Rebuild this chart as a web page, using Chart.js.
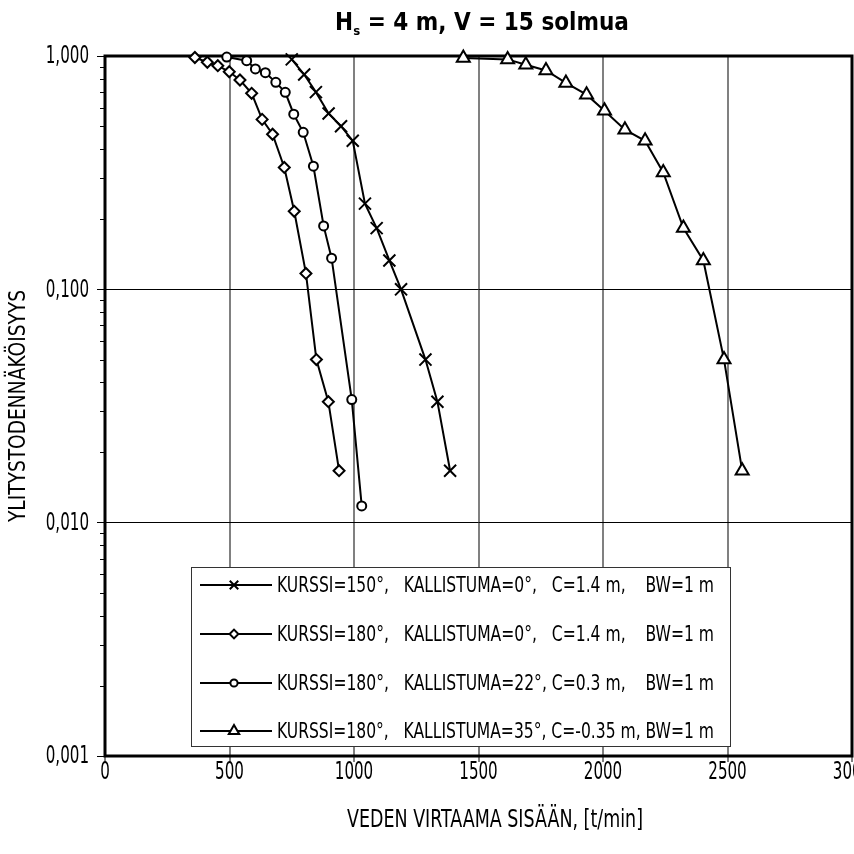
<!DOCTYPE html>
<html>
<head>
<meta charset="utf-8">
<script src="https://cdn.jsdelivr.net/npm/chart.js@4/dist/chart.umd.min.js"></script>
<style>
  html, body { margin: 0; padding: 0; overflow: hidden; background: #fff; }
  #wrap { width: 900px; height: 854px; }
</style>
</head>
<body>
<div id="wrap"><canvas id="chart" width="900" height="854"></canvas></div>
<script>
// values
const labels = [
  'KURSSI=150°,   KALLISTUMA=0°,   C=1.4 m,    BW=1 m',
  'KURSSI=180°,   KALLISTUMA=0°,   C=1.4 m,    BW=1 m',
  'KURSSI=180°,   KALLISTUMA=22°, C=0.3 m,    BW=1 m',
  'KURSSI=180°,   KALLISTUMA=35°, C=-0.35 m, BW=1 m'
];

const flowCross = [750, 800, 847, 898, 948, 995, 1044, 1091, 1142, 1189, 1287, 1335, 1386];
const probCross = [0.967, 0.833, 0.700, 0.567, 0.500, 0.433, 0.233, 0.183, 0.133, 0.100, 0.050, 0.033, 0.0167];

const flowDiamond = [361, 411, 453, 499, 542, 589, 631, 673, 720, 760, 807, 849, 897, 940];
const probDiamond = [0.985, 0.94, 0.909, 0.856, 0.789, 0.692, 0.535, 0.462, 0.333, 0.216, 0.117, 0.050, 0.033, 0.0167];

const flowCircle = [489, 569, 604, 644, 686, 724, 758, 796, 837, 878, 910, 991, 1031];
const probCircle = [0.99, 0.955, 0.88, 0.848, 0.771, 0.699, 0.563, 0.471, 0.337, 0.187, 0.136, 0.0337, 0.0118];

const flowTri = [1439, 1617, 1690, 1771, 1851, 1934, 2006, 2088, 2169, 2242, 2323, 2403, 2486, 2559];
const probTri = [0.98, 0.967, 0.917, 0.867, 0.767, 0.683, 0.583, 0.483, 0.433, 0.317, 0.183, 0.133, 0.050, 0.0167];

const yTicks = [0.001, 0.01, 0.1, 1];

const titleMain = 'H';
const titleSub = 's';
const titleRest = ' = 4 m, V = 15 solmua';
const xTitle = 'VEDEN VIRTAAMA SISÄÄN, [t/min]';
const yTitle = 'YLITYSTODENNÄKÖISYYS';

const FONT = '"Liberation Sans Narrow", "DejaVu Sans Condensed", "Arial Narrow", sans-serif';

const fmtX = v => String(v);
const fmtY = v => Number(v).toFixed(3).replace('.', ',');

function pts(xs, ys) {
  return xs.map((x, i) => ({ x: x, y: ys[i] }));
}

function series(label, xs, ys, style, radius) {
  return {
    label: label,
    data: pts(xs, ys),
    showLine: true,
    borderColor: '#000',
    borderWidth: 2,
    backgroundColor: '#fff',
    pointStyle: style,
    pointRadius: radius,
    pointBorderWidth: 2,
    pointBorderColor: '#000',
    pointBackgroundColor: '#fff',
    clip: false
  };
}

const datasets = [
  series(labels[0], flowCross, probCross, 'crossRot', 8.5),
  series(labels[1], flowDiamond, probDiamond, 'rectRot', 5.5),
  series(labels[2], flowCircle, probCircle, 'circle', 4.5),
  series(labels[3], flowTri, probTri, 'triangle', 7.5)
];

// the reference uses a tall condensed face, squeeze text sideways
function narrow(ctx, text, x, y, sx, align, rot) {
  ctx.save();
  ctx.translate(x, y);
  if (rot) ctx.rotate(rot);
  ctx.scale(sx, 1);
  ctx.textAlign = align;
  ctx.textBaseline = 'middle';
  ctx.fillText(text, 0, 0);
  ctx.restore();
}

const decor = {
  id: 'decor',
  beforeDatasetsDraw(chart) {
    const { ctx, chartArea: a, scales } = chart;
    ctx.save();
    ctx.strokeStyle = '#000';
    ctx.lineWidth = 1;
    [0.001, 0.01, 0.1].forEach(d => {
      for (let k = 2; k <= 9; k++) {
        const py = Math.round(scales.y.getPixelForValue(k * d)) + 0.5;
        ctx.beginPath();
        ctx.moveTo(a.left - 5, py);
        ctx.lineTo(a.left, py);
        ctx.stroke();
      }
    });
    ctx.lineWidth = 3;
    ctx.strokeRect(a.left, a.top, a.right - a.left, a.bottom - a.top);
    ctx.restore();
  },
  afterDraw(chart) {
    const { ctx, chartArea: a, scales } = chart;
    ctx.save();
    ctx.fillStyle = '#000';

    // tick labels
    ctx.font = '24px ' + FONT;
    scales.x.ticks.forEach((t, i) => {
      narrow(ctx, fmtX(t.value), scales.x.getPixelForTick(i), 773, 0.7, 'center');
    });
    scales.y.ticks.forEach((t, i) => {
      narrow(ctx, fmtY(t.value), 89, scales.y.getPixelForTick(i) + 1, 0.7, 'right');
    });

    // axis titles
    ctx.font = '24px ' + FONT;
    narrow(ctx, xTitle, 495, 821, 0.81, 'center');
    ctx.font = '23px ' + FONT;
    narrow(ctx, yTitle, 19, (a.top + a.bottom) / 2, 0.9, 'center', -Math.PI / 2);

    // title with subscript
    ctx.textBaseline = 'alphabetic';
    ctx.textAlign = 'left';
    const big = 'bold 24px ' + FONT, small = 'bold 13px ' + FONT;
    ctx.font = big;
    const wH = ctx.measureText(titleMain).width, wR = ctx.measureText(titleRest).width;
    ctx.font = small;
    const wS = ctx.measureText(titleSub).width;
    let tx = 482 - (wH + wS + wR) / 2;
    const ty = 30;
    ctx.font = big;
    ctx.fillText(titleMain, tx, ty); tx += wH;
    ctx.font = small;
    ctx.fillText(titleSub, tx, ty + 5); tx += wS;
    ctx.font = big;
    ctx.fillText(titleRest, tx, ty);

    // legend
    const bx = 191, by = 567, bw = 539, bh = 179;
    ctx.fillStyle = '#fff';
    ctx.fillRect(bx, by, bw, bh);
    ctx.strokeStyle = '#333';
    ctx.lineWidth = 1;
    ctx.strokeRect(bx + 0.5, by + 0.5, bw, bh);
    const rows = [585, 634, 683, 731];
    chart.data.datasets.forEach((ds, i) => {
      const ry = rows[i];
      ctx.strokeStyle = '#000';
      ctx.lineWidth = 2;
      ctx.beginPath();
      ctx.moveTo(200, ry);
      ctx.lineTo(272, ry);
      ctx.stroke();
      ctx.fillStyle = '#fff';
      Chart.helpers.drawPoint(ctx, {
        pointStyle: ds.pointStyle,
        radius: ds.pointStyle === 'crossRot' ? 6 : ds.pointRadius * 0.8,
        rotation: 0,
        borderWidth: 2
      }, 234, ry);
      ctx.fillStyle = '#000';
      ctx.font = '22px ' + FONT;
      ctx.textAlign = 'left';
      ctx.textBaseline = 'middle';
      ctx.fillText(ds.label, 277, ry + 1, 437);
    });
    ctx.restore();
  }
};

new Chart(document.getElementById('chart'), {
  type: 'scatter',
  data: { datasets: datasets },
  plugins: [decor],
  options: {
    responsive: false,
    devicePixelRatio: 1,
    animation: false,
    layout: { padding: { left: 0, right: 48, top: 56, bottom: 0 } },
    plugins: {
      legend: { display: false },
      tooltip: { enabled: false },
      title: { display: false }
    },
    scales: {
      x: {
        type: 'linear',
        min: 0,
        max: 3000,
        afterFit(scale) { scale.height = 98; },
        ticks: { stepSize: 500, display: false },
        grid: {
          color: ctx => (ctx.tick && (ctx.tick.value === 0 || ctx.tick.value === 3000)) ? 'rgba(0,0,0,0)' : '#808080',
          lineWidth: 2,
          tickColor: '#000',
          tickWidth: 1,
          tickLength: 6
        },
        border: { display: false }
      },
      y: {
        type: 'logarithmic',
        min: 0.001,
        max: 1,
        afterBuildTicks(scale) { scale.ticks = yTicks.map(v => ({ value: v, major: true })); },
        afterFit(scale) { scale.width = 105; },
        ticks: { display: false },
        grid: {
          color: ctx => (ctx.tick && (ctx.tick.value === 0.1 || ctx.tick.value === 0.01)) ? '#000' : 'rgba(0,0,0,0)',
          lineWidth: 1,
          tickColor: '#000',
          tickWidth: 1,
          tickLength: 8
        },
        border: { display: false }
      }
    }
  }
});
</script>
</body>
</html>
